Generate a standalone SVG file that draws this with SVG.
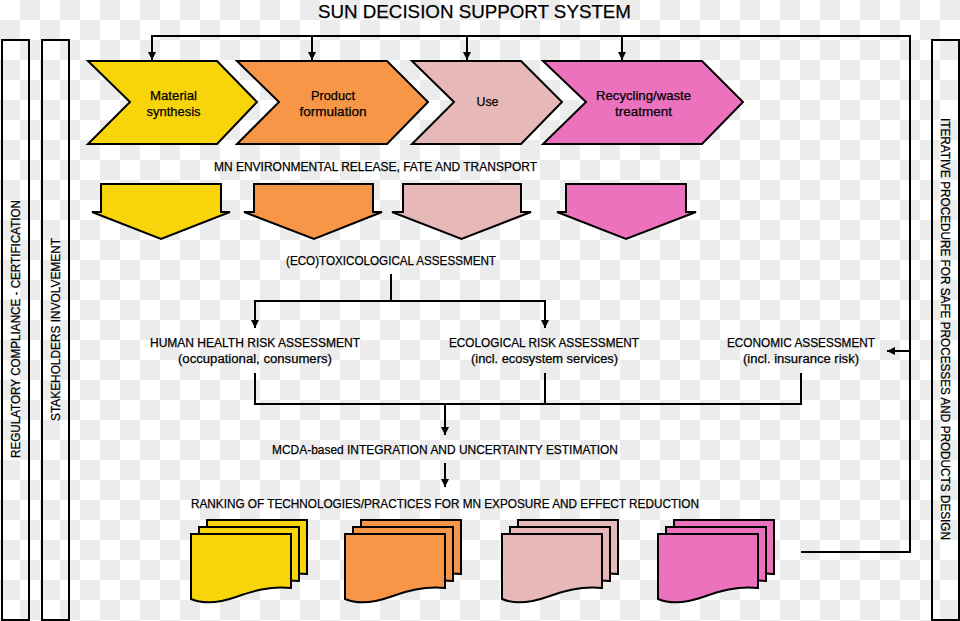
<svg xmlns="http://www.w3.org/2000/svg" xmlns:xlink="http://www.w3.org/1999/xlink" width="960" height="621" viewBox="0 0 960 621">
<defs>
<pattern id="chk" width="40" height="40" patternUnits="userSpaceOnUse">
<rect width="40" height="40" fill="#ffffff"/>
<rect x="20" y="0" width="20" height="20" fill="#ececec"/>
<rect x="0" y="20" width="20" height="20" fill="#ececec"/>
</pattern>
<marker id="ah" viewBox="0 0 10 10" refX="10" refY="5" markerWidth="8" markerHeight="8" markerUnits="userSpaceOnUse" orient="auto">
<path d="M0,0 L10,5 L0,10 z" fill="#000"/>
</marker>
<path id="doc" d="M0,0 H100 V54 C78,52 62,57 45,63 C28,69 12,70 0,65 Z"/>
</defs>
<style>
.t{font-family:"Liberation Sans",Arial,sans-serif;fill:#000;text-anchor:middle;stroke:#000;stroke-width:0.25}
.s{stroke:#000;stroke-width:2;stroke-linejoin:miter}
.c{fill:none;stroke:#000;stroke-width:2}
.y{fill:#F8D40A}.o{fill:#F79646}.p{fill:#E6B8B7}.m{fill:#EC72BE}
.bar{fill:none;stroke:#000;stroke-width:2}
</style>
<rect width="960" height="621" fill="url(#chk)"/>

<text class="t" x="474.5" y="17.5" font-size="19" textLength="313" lengthAdjust="spacingAndGlyphs">SUN DECISION SUPPORT SYSTEM</text>

<g id="regulatory">
<rect class="bar" x="2" y="40" width="27" height="580"/>
<text class="t" transform="translate(19.5,329) rotate(-90)" font-size="12.5" textLength="258" lengthAdjust="spacingAndGlyphs">REGULATORY COMPLIANCE - CERTIFICATION</text>
</g>
<g id="stakeholders">
<rect class="bar" x="42" y="40" width="27" height="580"/>
<text class="t" transform="translate(60,329.5) rotate(-90)" font-size="12.5" textLength="183" lengthAdjust="spacingAndGlyphs">STAKEHOLDERS INVOLVEMENT</text>
</g>
<g id="iterative">
<rect class="bar" x="932" y="40" width="27" height="580"/>
<text class="t" transform="translate(940.5,329) rotate(90)" font-size="12.5" textLength="422" lengthAdjust="spacingAndGlyphs">ITERATIVE PROCEDURE FOR SAFE PROCESSES AND PRODUCTS DESIGN</text>
</g>

<g id="connectors">
<path class="c" stroke-width="2.5" d="M801,552 H910 V36 H152 V60" marker-end="url(#ah)"/>
<path class="c" d="M312,36 V60" marker-end="url(#ah)"/>
<path class="c" d="M467,36 V60" marker-end="url(#ah)"/>
<path class="c" d="M622,36 V60" marker-end="url(#ah)"/>
<path class="c" d="M910,351 H887" marker-end="url(#ah)"/>
<path class="c" d="M391,274 V301 H255 V328" marker-end="url(#ah)"/>
<path class="c" d="M391,301 H545 V328" marker-end="url(#ah)"/>
<path class="c" d="M255,373 V404 H801 V373"/>
<path class="c" d="M545,373 V404"/>
<path class="c" d="M445,404 V435" marker-end="url(#ah)"/>
<path class="c" d="M445,463 V487" marker-end="url(#ah)"/>
</g>

<g id="material-synthesis">
<polygon class="s y" points="88,61 217,61 257,102 217,144 88,144 130,102"/>
<text class="t" x="173.5" y="100" font-size="13.5" textLength="47" lengthAdjust="spacingAndGlyphs">Material</text>
<text class="t" x="173.5" y="116" font-size="13.5" textLength="54" lengthAdjust="spacingAndGlyphs">synthesis</text>
</g>
<g id="product-formulation">
<polygon class="s o" points="237,61 387,61 428,102 387,144 237,144 279,102"/>
<text class="t" x="333" y="100" font-size="13.5" textLength="44" lengthAdjust="spacingAndGlyphs">Product</text>
<text class="t" x="333" y="116" font-size="13.5" textLength="67" lengthAdjust="spacingAndGlyphs">formulation</text>
</g>
<g id="use">
<polygon class="s p" points="412,61 521,61 562,102 521,144 412,144 454,102"/>
<text class="t" x="487.5" y="106" font-size="13.5" textLength="22" lengthAdjust="spacingAndGlyphs">Use</text>
</g>
<g id="recycling">
<polygon class="s m" points="543,61 702,61 743,102 702,144 543,144 586,102"/>
<text class="t" x="643.5" y="100" font-size="13.5" textLength="95" lengthAdjust="spacingAndGlyphs">Recycling/waste</text>
<text class="t" x="643.5" y="116" font-size="13.5" textLength="57" lengthAdjust="spacingAndGlyphs">treatment</text>
</g>

<g id="release-label">
<text class="t" x="375.5" y="171" font-size="12.5" textLength="323" lengthAdjust="spacingAndGlyphs">MN ENVIRONMENTAL RELEASE, FATE AND TRANSPORT</text>
</g>
<g id="release-1"><path class="s y" d="M101,184 H221 V212 H230 L161,239 L92,212 H101 Z"/></g>
<g id="release-2"><path class="s o" d="M254,184 H373 V212 H382 L314,239 L244,212 H254 Z"/></g>
<g id="release-3"><path class="s p" d="M403,184 H521 V212 H531 L461.5,239 L392,212 H403 Z"/></g>
<g id="release-4"><path class="s m" d="M566,184 H686 V212 H696 L626,239 L557,212 H566 Z"/></g>

<g id="ecotox">
<text class="t" x="391" y="265" font-size="12.5" textLength="210" lengthAdjust="spacingAndGlyphs">(ECO)TOXICOLOGICAL ASSESSMENT</text>
</g>
<g id="human-health">
<text class="t" x="255" y="347" font-size="12.5" textLength="210" lengthAdjust="spacingAndGlyphs">HUMAN HEALTH RISK ASSESSMENT</text>
<text class="t" x="255" y="363" font-size="12.5" textLength="154" lengthAdjust="spacingAndGlyphs">(occupational, consumers)</text>
</g>
<g id="ecological">
<text class="t" x="544" y="347" font-size="12.5" textLength="190" lengthAdjust="spacingAndGlyphs">ECOLOGICAL RISK ASSESSMENT</text>
<text class="t" x="544.5" y="363" font-size="12.5" textLength="147" lengthAdjust="spacingAndGlyphs">(incl. ecosystem services)</text>
</g>
<g id="economic">
<text class="t" x="801" y="347" font-size="12.5" textLength="148" lengthAdjust="spacingAndGlyphs">ECONOMIC ASSESSMENT</text>
<text class="t" x="801" y="363" font-size="12.5" textLength="116" lengthAdjust="spacingAndGlyphs">(incl. insurance risk)</text>
</g>
<g id="mcda">
<text class="t" x="445" y="454" font-size="12.5" textLength="346" lengthAdjust="spacingAndGlyphs">MCDA-based INTEGRATION AND UNCERTAINTY ESTIMATION</text>
</g>
<g id="ranking">
<text class="t" x="445" y="508" font-size="12.5" textLength="508" lengthAdjust="spacingAndGlyphs">RANKING OF TECHNOLOGIES/PRACTICES FOR MN EXPOSURE AND EFFECT REDUCTION</text>
</g>

<g id="stack-1">
<use xlink:href="#doc" class="s y" transform="translate(207,520)"/>
<use xlink:href="#doc" class="s y" transform="translate(199,527)"/>
<use xlink:href="#doc" class="s y" transform="translate(191,534)"/>
</g>
<g id="stack-2">
<use xlink:href="#doc" class="s o" transform="translate(361,520)"/>
<use xlink:href="#doc" class="s o" transform="translate(353,527)"/>
<use xlink:href="#doc" class="s o" transform="translate(345,534)"/>
</g>
<g id="stack-3">
<use xlink:href="#doc" class="s p" transform="translate(518,520)"/>
<use xlink:href="#doc" class="s p" transform="translate(510,527)"/>
<use xlink:href="#doc" class="s p" transform="translate(502,534)"/>
</g>
<g id="stack-4">
<use xlink:href="#doc" class="s m" transform="translate(674,520)"/>
<use xlink:href="#doc" class="s m" transform="translate(666,527)"/>
<use xlink:href="#doc" class="s m" transform="translate(658,534)"/>
</g>
</svg>
